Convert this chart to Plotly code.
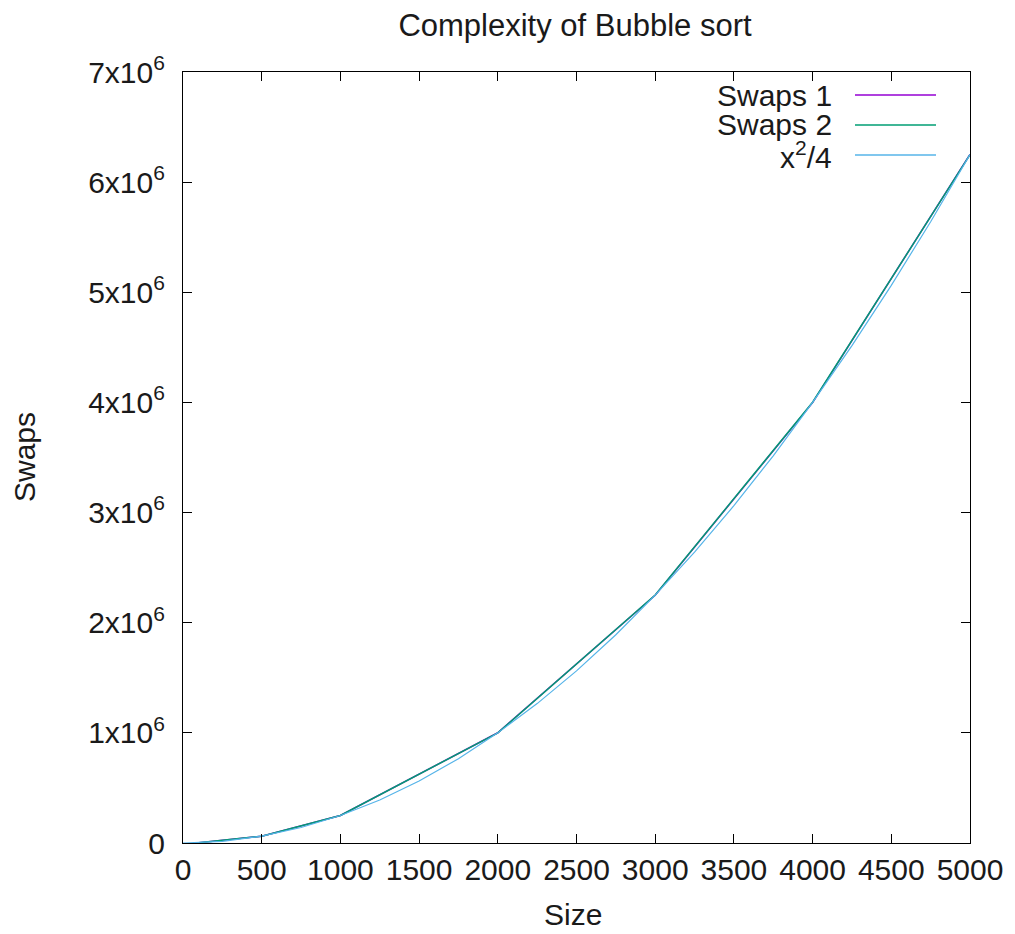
import plotly.graph_objects as go

sizes = [100, 500, 1000, 2000, 3000, 4000, 5000]
swaps1 = [2480, 62300, 249700, 1000800, 2249500, 3998200, 6251400]
swaps2 = [2510, 62100, 250300, 999600, 2251200, 4001500, 6249100]

ref_x = [0, 250, 500, 750, 1000, 1250, 1500, 1750, 2000, 2250, 2500, 2750, 3000,
         3250, 3500, 3750, 4000, 4250, 4500, 4750, 5000]
ref_y = [0, 15625, 62500, 140625, 250000, 390625, 562500, 765625, 1000000,
         1265625, 1562500, 1890625, 2250000, 2640625, 3062500, 3515625,
         4000000, 4515625, 5062500, 5640625, 6250000]

x_ticks = [0, 500, 1000, 1500, 2000, 2500, 3000, 3500, 4000, 4500, 5000]
y_ticks = [0, 1e6, 2e6, 3e6, 4e6, 5e6, 6e6, 7e6]
y_ticklabels = ["0"] + [f"{i}x10<sup>6</sup>" for i in range(1, 8)]

names = ["Swaps 1", "Swaps 2", "x<sup>2</sup>/4"]
colors = ["#9400d3", "#009e73", "#56b4e9"]

# page body has an 8px margin; work in screen coordinates and subtract it
OFF = 8
W, H = 1015 - OFF, 934 - OFF
L, R, T, B = 183 - OFF, 970 - OFF, 72 - OFF, 843 - OFF
PW, PH = R - L, B - T

fig = go.Figure()
fig.add_trace(go.Scatter(x=sizes, y=swaps1, mode="lines", name=names[0],
                         line=dict(color=colors[0], width=1.5)))
fig.add_trace(go.Scatter(x=sizes, y=swaps2, mode="lines", name=names[1],
                         line=dict(color=colors[1], width=1.5)))
fig.add_trace(go.Scatter(x=ref_x, y=ref_y, mode="lines", name=names[2],
                         line=dict(color=colors[2], width=1.2)))

font = "Liberation Sans, Arial, sans-serif"
tcol = "#1a1a1a"
axis_common = dict(showgrid=False, zeroline=False, showline=True, linecolor="black",
                   linewidth=1.2, mirror="ticks", ticks="inside", ticklen=9,
                   tickcolor="black", automargin=False,
                   tickfont=dict(family=font, size=30, color=tcol))

fig.update_layout(
    width=W, height=H,
    margin=dict(l=L, r=W - R, t=T, b=H - B, autoexpand=False),
    plot_bgcolor="white", paper_bgcolor="white",
    showlegend=False,
    title=dict(text="Complexity of Bubble sort", x=(575 - OFF) / W, xref="container",
               xanchor="center", y=1 - (25 - OFF) / H, yref="container", yanchor="middle",
               automargin=False,
               font=dict(family=font, size=31, color=tcol)),
    xaxis=dict(range=[0, 5000], tickvals=x_ticks, ticklabelstandoff=0, **axis_common),
    yaxis=dict(range=[0, 7e6], tickvals=y_ticks, ticktext=y_ticklabels,
               ticklabelstandoff=11, **axis_common),
)

annotations = [
    dict(text="Size", xref="paper", yref="paper", x=(573 - OFF - L) / PW,
         y=-(914 - OFF - B) / PH,
         xanchor="center", yanchor="middle", showarrow=False,
         font=dict(family=font, size=30, color=tcol)),
    dict(text="Swaps", xref="paper", yref="paper", x=-(L - (24 - OFF)) / PW,
         y=(B - (457 - OFF)) / PH,
         xanchor="center", yanchor="middle", showarrow=False, textangle=-90,
         font=dict(family=font, size=30, color=tcol)),
]
legend_rows = [95, 125, 155]
for name, color, py in zip(names, colors, legend_rows):
    yp = (B - (py - OFF)) / PH
    annotations.append(dict(text=name, xref="paper", yref="paper",
                            x=(834 - OFF - L) / PW, y=yp,
                            xanchor="right", yanchor="middle", showarrow=False,
                            font=dict(family=font, size=30, color=tcol)))
    fig.add_shape(type="line", xref="paper", yref="paper",
                  x0=(855 - OFF - L) / PW, x1=(936 - OFF - L) / PW, y0=yp, y1=yp,
                  line=dict(color=color, width=1.5))
fig.update_layout(annotations=annotations)

fig.write_html("out.html")
